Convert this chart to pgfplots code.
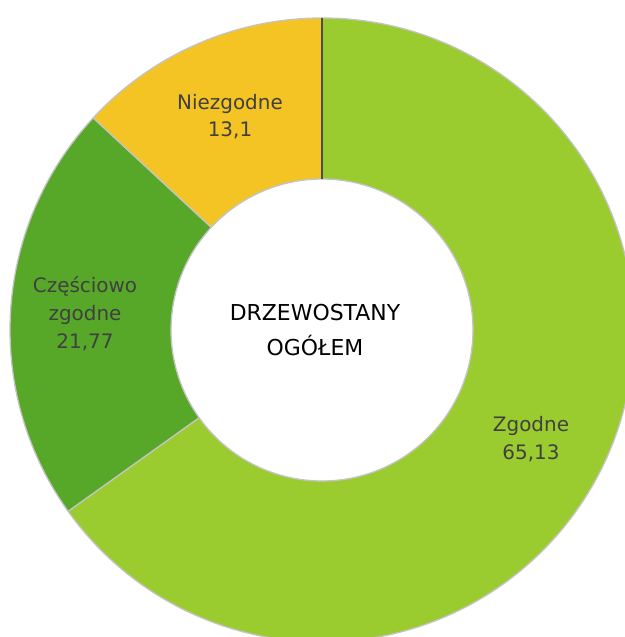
\documentclass[border=0pt]{standalone}
\usepackage{pgfplots}
\usepackage{pgfplotstable}
\usepackage{fontspec}
\setmainfont{DejaVu Sans}
\pgfplotsset{compat=1.18}

\definecolor{zgod}{HTML}{9BCC2F}
\definecolor{czesc}{HTML}{57A829}
\definecolor{niezg}{HTML}{F4C324}
\definecolor{rim}{HTML}{C4C4C4}
\definecolor{lbl}{HTML}{404040}

% share of stands, percent
\pgfplotstableread{
value
65.13
21.77
13.1
}\ringdata

\pgfplotstablegetelem{0}{value}\of\ringdata \let\vA\pgfplotsretval
\pgfplotstablegetelem{1}{value}\of\ringdata \let\vB\pgfplotsretval
\pgfplotstablegetelem{2}{value}\of\ringdata \let\vC\pgfplotsretval
\pgfmathsetmacro\tot{\vA+\vB+\vC}
\pgfmathsetmacro\eA{90-3.6*(\vA/\tot)*100}
\pgfmathsetmacro\eB{\eA-3.6*(\vB/\tot)*100}
\pgfmathsetmacro\eC{\eB-3.6*(\vC/\tot)*100}
\def\Ro{312}
\def\Ri{151}

\newcommand\sector[3]{%
  \filldraw[fill=#3, draw=rim, line width=1.3bp, line join=round]
    (axis cs:{\Ro*cos(#1)},{\Ro*sin(#1)}) arc[start angle=#1, end angle=#2, radius=\Ro bp]
    -- (axis cs:{\Ri*cos(#2)},{\Ri*sin(#2)}) arc[start angle=#2, end angle=#1, radius=\Ri bp]
    -- cycle;}

\begin{document}
\begin{tikzpicture}
\begin{axis}[scale only axis, width=625bp, height=637bp,
  xmin=-322, xmax=303, ymin=-307, ymax=330, hide axis, clip=true]
\sector{90}{\eA}{zgod}
\sector{\eA}{\eB}{czesc}
\sector{\eB}{\eC}{niezg}
\draw[black!70, line width=1.6bp] (axis cs:0,\Ri) -- (axis cs:0,\Ro);
\node[font=\fontsize{20}{27}\selectfont, text=lbl, align=center] at (axis cs:-92,213) {Niezgodne\\13,1};
\node[font=\fontsize{20}{28}\selectfont, text=lbl, align=center] at (axis cs:-237,16) {Częściowo\\zgodne\\21,77};
\node[font=\fontsize{20}{28}\selectfont, text=lbl, align=center] at (axis cs:209,-109) {Zgodne\\65,13};
\node[font=\fontsize{22}{36}\selectfont, text=black, align=center] at (axis cs:-7,0) {DRZEWOSTANY\\OGÓŁEM};
\end{axis}
\pgfresetboundingbox
\useasboundingbox (0,0) rectangle (625bp,637bp);
\end{tikzpicture}
\end{document}
